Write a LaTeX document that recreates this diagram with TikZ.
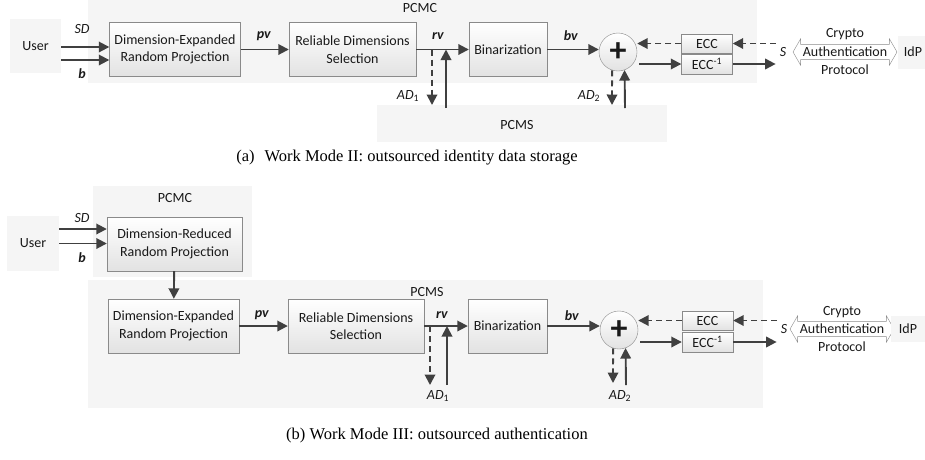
\documentclass[tikz,border=0pt]{standalone}
\usepackage{fontspec}
\setmainfont{Carlito}
\newfontfamily\capfont{Liberation Serif}
\usetikzlibrary{arrows.meta,shapes.arrows}
\definecolor{bandgray}{HTML}{F5F5F5}
\definecolor{edgegray}{HTML}{8A8A8A}
\definecolor{boxbot}{HTML}{E2E2E2}
\definecolor{arrgray}{HTML}{404040}

\begin{document}
\begin{tikzpicture}[x=1pt,y=-1pt]
\tikzstyle{every node}=[font=\fontsize{14}{17.5}\selectfont, text=black!90, inner sep=1pt]
\tikzstyle{proc}=[draw=edgegray, top color=white, bottom color=boxbot, align=center, minimum height=54pt]
\tikzstyle{small}=[proc, minimum height=19pt, minimum width=51pt]
\tikzstyle{party}=[fill=bandgray, minimum height=54pt]
\tikzstyle{sum}=[circle, draw=edgegray, top color=white, bottom color=boxbot, minimum size=38pt, inner sep=0pt, font=\fontsize{34}{34}\selectfont\bfseries]
\tikzstyle{proto}=[double arrow, draw=edgegray, fill=white, double arrow head extend=5.5pt, double arrow tip angle=120, minimum height=104pt, inner sep=2.5pt]
\tikzstyle{flow}=[draw=arrgray, line width=1.9pt, -{Triangle[length=10.5pt,width=10.5pt]}]
\tikzstyle{back}=[flow, dash pattern=on 6pt off 4pt]
\tikzstyle{caption}=[font=\capfont\fontsize{16.5}{19}\selectfont, text=black]
\useasboundingbox (0,0) rectangle (925,459);

% (a) work mode II
\fill[bandgray] (88,0) rectangle (757,83);
\fill[bandgray] (377,105) rectangle (667,142);
\draw (420,8) node (pcmcA) {PCMC};
\draw (517,125) node (pcmsA) {PCMS};
\draw (35.5,46) node (userA) [party, minimum width=51pt] {User};
\draw (175,49.5) node (derpA) [proc, minimum width=131pt] {Dimension-Expanded\\Random Projection};
\draw (352.5,49.5) node (rdsA) [proc, minimum width=127pt] {Reliable Dimensions\\Selection};
\draw (508,49.5) node (binA) [proc, minimum width=78pt] {Binarization};
\draw (618,52) node (xorA) [sum] {+};
\draw (707,43.5) node (eccA) [small] {ECC};
\draw (707,64) node (eccinvA) [small, minimum height=20pt] {ECC\textsuperscript{-1}};
\draw (783,52) node (sA) {\textit{S}};
\draw (845,52) node (authA) [proto] {Authentication};
\draw (845,34) node (cryptoA) {Crypto};
\draw (845,70) node (protoA) {Protocol};
\draw (913,52) node (idpA) [party, minimum width=30pt, minimum height=33pt] {IdP};
\draw (82,29) node (sdA) {\textit{SD}};
\draw (82,74) node (bA) {\textbf{\textit{b}}};
\draw (264,36) node (pvA) {\textbf{\textit{pv}}};
\draw (438,36) node (rvA) {\textbf{\textit{rv}}};
\draw (571,36) node (bvA) {\textbf{\textit{bv}}};
\draw (408,96) node (ad1A) {\textit{AD}\textsubscript{1}};
\draw (589,96) node (ad2A) {\textit{AD}\textsubscript{2}};
\coordinate (ad1downA) at (432,105);
\coordinate (ad1upA) at (446,108);
\coordinate (ad2downA) at (612,105);
\coordinate (ad2upA) at (625,108);
\draw[flow] ([yshift=-1pt]userA.east) -- ([yshift=-1pt]derpA.west |- userA.east);
\draw[flow] ([yshift=-14pt]userA.east) -- ([yshift=-14pt]derpA.west |- userA.east);
\draw[flow] (derpA) -- (rdsA);
\draw[flow] (rdsA) -- (binA);
\draw[flow] (binA.east) -- (binA.east -| xorA.west);
\draw[back] (rdsA.east -| ad1downA) -- (ad1downA);
\draw[flow] (ad1upA) -- (ad1upA |- rdsA.east);
\draw[back] (xorA.-108) -- (ad2downA);
\draw[flow] (ad2upA) -- (xorA.-70);
\draw[back] ([xshift=-3pt]sA.west |- eccA.east) -- (eccA.east);
\draw[back] (eccA.west) -- (eccA.west -| xorA.east);
\draw[flow] ([xshift=2pt]xorA.east |- eccinvA.west) -- (eccinvA.west);
\draw[flow] (eccinvA.east) -- ([xshift=-3pt]sA.west |- eccinvA.east);
\draw (407,158) node (capA) [caption] {(a)\hspace{10pt}Work Mode II: outsourced identity data storage};

% (b) work mode III
\fill[bandgray] (93,186) rectangle (252,277);
\fill[bandgray] (88,280) rectangle (763,408);
\draw (175,198) node (pcmcB) {PCMC};
\draw (427,292) node (pcmsB) {PCMS};
\draw (33,243.5) node (userB) [party, minimum width=52pt, minimum height=55pt] {User};
\draw (174.5,244) node (drrpB) [proc, minimum width=135pt] {Dimension-Reduced\\Random Projection};
\draw (173.5,326) node (derpB) [proc, minimum width=131pt] {Dimension-Expanded\\Random Projection};
\draw (356,326) node (rdsB) [proc, minimum width=136pt] {Reliable Dimensions\\Selection};
\draw (507.5,326) node (binB) [proc, minimum width=79pt] {Binarization};
\draw (619,330) node (xorB) [sum] {+};
\draw (707.5,320.5) node (eccB) [small] {ECC};
\draw (707.5,342) node (eccinvB) [small, minimum height=20pt] {ECC\textsuperscript{-1}};
\draw (784,329) node (sB) {\textit{S}};
\draw (842,329) node (authB) [proto] {Authentication};
\draw (842,312) node (cryptoB) {Crypto};
\draw (842,347) node (protoB) {Protocol};
\draw (908,329) node (idpB) [party, minimum width=34pt, minimum height=26pt] {IdP};
\draw (82,218) node (sdB) {\textit{SD}};
\draw (82,258) node (bB) {\textbf{\textit{b}}};
\draw (262,315) node (pvB) {\textbf{\textit{pv}}};
\draw (442,315) node (rvB) {\textbf{\textit{rv}}};
\draw (572,316) node (bvB) {\textbf{\textit{bv}}};
\draw (438,396) node (ad1B) {\textit{AD}\textsubscript{1}};
\draw (620,396) node (ad2B) {\textit{AD}\textsubscript{2}};
\coordinate (ad1downB) at (430,385);
\coordinate (ad1upB) at (447,385);
\coordinate (ad2downB) at (613,383);
\coordinate (ad2upB) at (626,385);
\draw[flow] ([yshift=14.5pt]userB.east) -- ([yshift=14.5pt]drrpB.west |- userB.east);
\draw[flow] (userB.east) -- (drrpB.west |- userB.east);
\draw[flow] (drrpB) -- (derpB);
\draw[flow] (derpB) -- (rdsB);
\draw[flow] (rdsB) -- (binB);
\draw[flow] (binB.east) -- (binB.east -| xorB.west);
\draw[back] (rdsB.east -| ad1downB) -- (ad1downB);
\draw[flow] (ad1upB) -- (ad1upB |- rdsB.east);
\draw[back] (xorB.-108) -- (ad2downB);
\draw[flow] (ad2upB) -- (xorB.-70);
\draw[back] ([xshift=-3pt]sB.west |- eccB.east) -- (eccB.east);
\draw[back] (eccB.west) -- (eccB.west -| xorB.east);
\draw[flow] ([xshift=2pt]xorB.east |- eccinvB.west) -- (eccinvB.west);
\draw[flow] (eccinvB.east) -- ([xshift=-3pt]sB.west |- eccinvB.east);
\draw (437,436) node (capB) [caption] {(b) Work Mode III: outsourced authentication};
\end{tikzpicture}
\end{document}
